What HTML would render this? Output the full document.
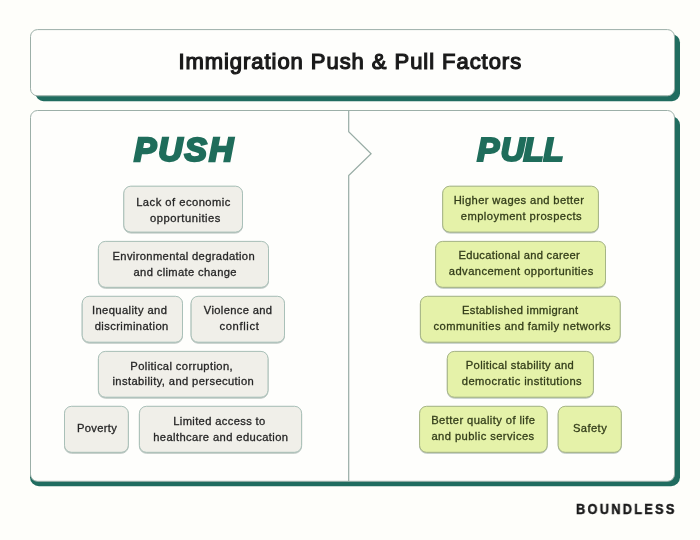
<!DOCTYPE html>
<html lang="en">
<head>
<meta charset="utf-8">
<title>Immigration Push &amp; Pull Factors</title>
<style>
html,body{margin:0;padding:0;}
body{width:700px;height:540px;background:#fefefa;position:relative;overflow:hidden;font-family:"Liberation Sans",sans-serif;color:#1f1f1f;}
svg.bg{position:absolute;left:0;top:0;will-change:transform;}
.title,.brand{will-change:transform;}
.title{position:absolute;left:30px;top:28px;width:640.5px;height:67px;display:flex;align-items:center;justify-content:center;font-weight:normal;font-size:22px;letter-spacing:0.95px;-webkit-text-stroke:1.2px #1a1a1a;color:#1a1a1a;white-space:nowrap;}
.b{position:absolute;height:46px;will-change:transform;font-size:11.2px;line-height:16px;color:#262626;-webkit-text-stroke:0.3px #262626;white-space:nowrap;}
rect.bn{fill:#f0efe9;stroke:#a9c0b8;stroke-width:1;filter:url(#sh);}
rect.bg{fill:#e5f2a9;stroke:#a6b586;stroke-width:1;filter:url(#sh);}
.b.g{color:#333d1a;-webkit-text-stroke-color:#333d1a;}
.r1{top:186px}.r2{top:241px}.r3{top:296px}.r4{top:351px}.r5{top:406px}
.b span.l{position:absolute;left:0;right:0;height:16px;text-align:center;}
.brand{position:absolute;left:576px;top:499px;font-weight:bold;font-size:15px;letter-spacing:2.7px;-webkit-text-stroke:0.5px #1a1a1a;transform:scaleX(0.85);transform-origin:0 0;line-height:20px;color:#1a1a1a;white-space:nowrap;}
</style>
</head>
<body>
<svg class="bg" width="700" height="540" viewBox="0 0 700 540">
  <rect x="35.5" y="34.5" width="644.5" height="66.7" rx="8" fill="#206c5f"/>
  <rect x="30.5" y="29.6" width="644" height="66.2" rx="7" fill="#fefefc" stroke="#9cafa8" stroke-width="1"/>
  <rect x="30" y="116" width="650" height="370.2" rx="9" fill="#206c5f"/>
  <rect x="30.5" y="110.5" width="644" height="370.8" rx="7" fill="#fefefc" stroke="#9cafa8" stroke-width="1"/>
  <path d="M348.7 111 V131.8 L371.1 153.8 L348.7 175.6 V481" fill="none" stroke="#98aca5" stroke-width="1.2"/>
  <defs><filter id="sh" x="-10%" y="-20%" width="120%" height="150%"><feDropShadow dx="0" dy="0.7" stdDeviation="0.45" flood-color="#46645a" flood-opacity="0.5"/></filter></defs>
  <rect class="bn" x="123.8" y="186.2" width="118.7" height="45.9" rx="7"/>
  <rect class="bn" x="98.4" y="241.4" width="170.1" height="45.9" rx="7"/>
  <rect class="bn" x="82.2" y="296.3" width="100.3" height="45.9" rx="7"/>
  <rect class="bn" x="191.1" y="296.3" width="93.4" height="45.9" rx="7"/>
  <rect class="bn" x="98.4" y="351.4" width="169.6" height="45.8" rx="7"/>
  <rect class="bn" x="64.5" y="406.3" width="63.8" height="46.0" rx="7"/>
  <rect class="bn" x="139.4" y="406.3" width="162.2" height="46.0" rx="7"/>
  <rect class="bg" x="442.7" y="186.2" width="155.7" height="45.9" rx="7"/>
  <rect class="bg" x="435.6" y="241.4" width="169.9" height="45.9" rx="7"/>
  <rect class="bg" x="420.4" y="296.3" width="199.8" height="45.9" rx="7"/>
  <rect class="bg" x="447.3" y="351.4" width="146.1" height="45.8" rx="7"/>
  <rect class="bg" x="419.6" y="406.3" width="127.6" height="46.0" rx="7"/>
  <rect class="bg" x="558.2" y="406.3" width="63.1" height="46.0" rx="7"/>
</svg>
<div class="title"><span>Immigration Push &amp; Pull Factors</span></div>
<svg class="bg hd" width="700" height="540" viewBox="0 0 700 540">
  <g font-family="'Liberation Sans', sans-serif" font-weight="bold" font-style="italic" font-size="33.5" fill="#1f6d5b" stroke="#1f6d5b" stroke-width="2.4" stroke-linejoin="miter" stroke-miterlimit="3">
    <text class="h" x="134" y="160.8" letter-spacing="2">PUSH</text>
    <text class="h" x="477.1 500.6 523.2 543.3" y="160.8" stroke-width="2.1">PULL</text>
  </g>
</svg>

<div class="b r1" style="left:124px;width:119px">
<span class="l" style="top:8px;letter-spacing:0.48px;margin-left:0.1px">Lack of economic</span>
<span class="l" style="top:24px;letter-spacing:0.52px;margin-left:4.0px">opportunities</span>
</div>
<div class="b r2" style="left:98.5px;width:170.5px">
<span class="l" style="top:7px;letter-spacing:0.35px;margin-left:-1.0px">Environmental degradation</span>
<span class="l" style="top:23px;letter-spacing:0.35px;margin-left:1.9px">and climate change</span>
</div>
<div class="b r3" style="left:82px;width:101px">
<span class="l" style="top:6px;letter-spacing:0.41px;margin-left:-5.8px">Inequality and</span>
<span class="l" style="top:22px;letter-spacing:0.40px;margin-left:-1.6px">discrimination</span>
</div>
<div class="b r3" style="left:191px;width:94px">
<span class="l" style="top:6px;letter-spacing:0.33px;margin-left:0.2px">Violence and</span>
<span class="l" style="top:22px;letter-spacing:0.64px;margin-left:2.9px">conflict</span>
</div>
<div class="b r4" style="left:98.5px;width:170px">
<span class="l" style="top:7px;letter-spacing:0.39px;margin-left:-4.7px">Political corruption,</span>
<span class="l" style="top:22px;letter-spacing:0.38px;margin-left:-1.4px">instability, and persecution</span>
</div>
<div class="b r5" style="left:65px;width:63.5px">
<span class="l" style="top:14px;letter-spacing:0.30px;margin-left:0.6px">Poverty</span>
</div>
<div class="b r5" style="left:139.5px;width:162.5px">
<span class="l" style="top:7px;letter-spacing:0.35px;margin-left:-3.6px">Limited access to</span>
<span class="l" style="top:23px;letter-spacing:0.40px;margin-left:-0.8px">healthcare and education</span>
</div>
<div class="b g r1" style="left:442.5px;width:156.5px">
<span class="l" style="top:6px;letter-spacing:0.38px;margin-left:-4.6px">Higher wages and better</span>
<span class="l" style="top:22px;letter-spacing:0.44px;margin-left:0.3px">employment prospects</span>
</div>
<div class="b g r2" style="left:435.5px;width:170.5px">
<span class="l" style="top:6px;letter-spacing:0.29px;margin-left:-3.9px">Educational and career</span>
<span class="l" style="top:22px;letter-spacing:0.42px;margin-left:0.0px">advancement opportunities</span>
</div>
<div class="b g r3" style="left:420.5px;width:200.5px">
<span class="l" style="top:6px;letter-spacing:0.31px;margin-left:-2.0px">Established immigrant</span>
<span class="l" style="top:22px;letter-spacing:0.41px;margin-left:2.2px">communities and family networks</span>
</div>
<div class="b g r4" style="left:447.5px;width:146.5px">
<span class="l" style="top:6px;letter-spacing:0.33px;margin-left:-2.6px">Political stability and</span>
<span class="l" style="top:22px;letter-spacing:0.42px;margin-left:1.4px">democratic institutions</span>
</div>
<div class="b g r5" style="left:419.5px;width:128px">
<span class="l" style="top:6px;letter-spacing:0.41px;margin-left:-1.4px">Better quality of life</span>
<span class="l" style="top:22px;letter-spacing:0.42px;margin-left:-2.0px">and public services</span>
</div>
<div class="b g r5" style="left:558px;width:64px">
<span class="l" style="top:14px;letter-spacing:0.41px;margin-left:0.1px">Safety</span>
</div>
<div class="brand"><span>BOUNDLESS</span></div>
</body>
</html>
